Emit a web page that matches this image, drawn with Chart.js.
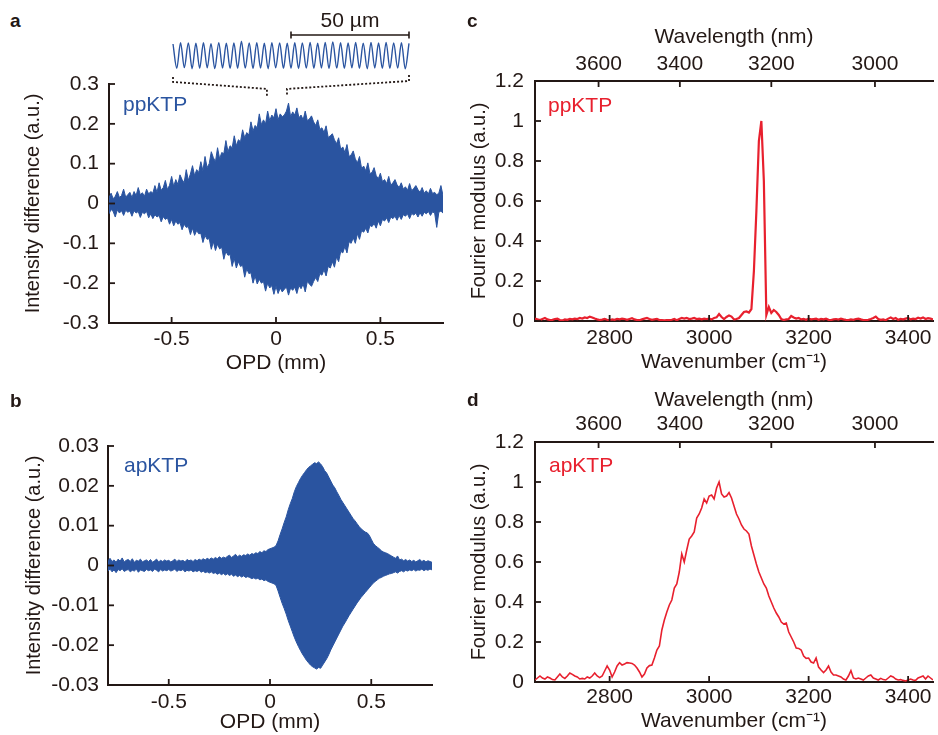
<!DOCTYPE html>
<html><head><meta charset="utf-8">
<script src="https://cdn.jsdelivr.net/npm/chart.js@4.4.1/dist/chart.umd.min.js"></script>
<style>
html,body{margin:0;padding:0;background:#fff;}
#wrap{position:relative;width:938px;height:735px;overflow:hidden;font-family:"Liberation Sans",Arial,sans-serif;color:#231815;}
canvas{position:absolute;}
.lbl{position:absolute;font-weight:bold;font-size:19px;line-height:1;}
</style></head><body>
<div id="wrap">
<canvas id="cInset" width="280" height="100" style="left:150px;top:0px"></canvas>
<canvas id="cA" width="469" height="320" style="left:0px;top:60px"></canvas>
<canvas id="cB" width="469" height="335" style="left:0px;top:400px"></canvas>
<canvas id="cC" width="478" height="380" style="left:460px;top:0px"></canvas>
<canvas id="cD" width="478" height="350" style="left:460px;top:385px"></canvas>
<div class="lbl" style="left:10px;top:11px">a</div>
<div class="lbl" style="left:10px;top:391px">b</div>
<div class="lbl" style="left:467px;top:11px">c</div>
<div class="lbl" style="left:467px;top:390px">d</div>
</div>
<script>
// ---------- data ----------
const opd = [-0.8,-0.79,-0.78,-0.77,-0.76,-0.75,-0.74,-0.73,-0.72,-0.71,
-0.7,-0.69,-0.68,-0.67,-0.66,-0.65,-0.64,-0.63,-0.62,-0.61,
-0.6,-0.59,-0.58,-0.57,-0.56,-0.55,-0.54,-0.53,-0.52,-0.51,
-0.5,-0.49,-0.48,-0.47,-0.46,-0.45,-0.44,-0.43,-0.42,-0.41,
-0.4,-0.39,-0.38,-0.37,-0.36,-0.35,-0.34,-0.33,-0.32,-0.31,
-0.3,-0.29,-0.28,-0.27,-0.26,-0.25,-0.24,-0.23,-0.22,-0.21,
-0.2,-0.19,-0.18,-0.17,-0.16,-0.15,-0.14,-0.13,-0.12,-0.11,
-0.1,-0.09,-0.08,-0.07,-0.06,-0.05,-0.04,-0.03,-0.02,-0.01,
0,0.01,0.02,0.03,0.04,0.05,0.06,0.07,0.08,0.09,
0.1,0.11,0.12,0.13,0.14,0.15,0.16,0.17,0.18,0.19,
0.2,0.21,0.22,0.23,0.24,0.25,0.26,0.27,0.28,0.29,
0.3,0.31,0.32,0.33,0.34,0.35,0.36,0.37,0.38,0.39,
0.4,0.41,0.42,0.43,0.44,0.45,0.46,0.47,0.48,0.49,
0.5,0.51,0.52,0.53,0.54,0.55,0.56,0.57,0.58,0.59,
0.6,0.61,0.62,0.63,0.64,0.65,0.66,0.67,0.68,0.69,
0.7,0.71,0.72,0.73,0.74,0.75,0.76,0.77,0.78,0.79,0.8];

const ppUpper = [0.014,0.026,0.012,0.018,0.03,0.015,0.02,0.036,0.016,0.022,
0.028,0.015,0.03,0.02,0.04,0.022,0.027,0.018,0.036,0.024,
0.03,0.026,0.045,0.028,0.052,0.033,0.04,0.058,0.035,0.046,
0.068,0.043,0.06,0.048,0.072,0.06,0.052,0.085,0.058,0.074,
0.095,0.07,0.085,0.078,0.105,0.082,0.118,0.09,0.1,0.13,
0.115,0.105,0.14,0.112,0.128,0.125,0.158,0.13,0.145,0.14,
0.17,0.145,0.16,0.155,0.185,0.165,0.178,0.172,0.205,0.182,
0.196,0.19,0.225,0.198,0.21,0.2,0.232,0.208,0.222,0.215,
0.238,0.21,0.225,0.218,0.222,0.232,0.252,0.218,0.23,0.222,
0.24,0.215,0.222,0.21,0.232,0.208,0.212,0.22,0.205,0.196,
0.21,0.186,0.19,0.178,0.195,0.166,0.17,0.175,0.16,0.15,
0.165,0.136,0.142,0.128,0.148,0.118,0.122,0.132,0.112,0.102,
0.118,0.088,0.094,0.082,0.102,0.075,0.078,0.09,0.07,0.062,
0.076,0.055,0.06,0.05,0.068,0.046,0.052,0.06,0.047,0.04,
0.052,0.036,0.042,0.033,0.05,0.032,0.038,0.045,0.035,0.028,
0.04,0.026,0.032,0.024,0.038,0.025,0.028,0.022,0.026,0.045,0.02];

const ppLower = [-0.026,-0.015,-0.02,-0.034,-0.016,-0.024,-0.018,-0.03,-0.017,-0.022,
-0.019,-0.032,-0.018,-0.024,-0.02,-0.035,-0.022,-0.026,-0.02,-0.036,
-0.026,-0.038,-0.028,-0.034,-0.03,-0.046,-0.033,-0.04,-0.036,-0.052,
-0.04,-0.056,-0.044,-0.052,-0.048,-0.066,-0.052,-0.06,-0.058,-0.078,
-0.062,-0.08,-0.068,-0.076,-0.075,-0.098,-0.08,-0.09,-0.088,-0.115,
-0.096,-0.118,-0.102,-0.114,-0.11,-0.14,-0.12,-0.13,-0.128,-0.158,
-0.138,-0.162,-0.146,-0.158,-0.155,-0.185,-0.164,-0.176,-0.174,-0.2,
-0.182,-0.202,-0.19,-0.2,-0.196,-0.22,-0.2,-0.212,-0.206,-0.228,
-0.208,-0.226,-0.212,-0.222,-0.215,-0.21,-0.23,-0.212,-0.218,-0.21,
-0.226,-0.206,-0.214,-0.202,-0.222,-0.196,-0.202,-0.208,-0.196,-0.186,
-0.196,-0.176,-0.18,-0.166,-0.182,-0.158,-0.162,-0.146,-0.16,-0.134,
-0.146,-0.12,-0.124,-0.108,-0.124,-0.096,-0.1,-0.086,-0.1,-0.076,
-0.09,-0.068,-0.072,-0.062,-0.074,-0.055,-0.058,-0.05,-0.062,-0.044,
-0.056,-0.04,-0.044,-0.036,-0.048,-0.034,-0.038,-0.032,-0.042,-0.03,
-0.04,-0.028,-0.032,-0.026,-0.038,-0.025,-0.029,-0.024,-0.034,-0.023,
-0.032,-0.022,-0.026,-0.02,-0.03,-0.021,-0.024,-0.06,-0.022,-0.019,-0.024];

const apUpper = [0.0012,0.0018,0.001,0.0014,0.0008,0.0016,0.0011,0.0019,0.0009,0.0013,
0.0015,0.001,0.0017,0.0008,0.0013,0.0011,0.0016,0.0009,0.0012,0.0014,
0.001,0.0015,0.0008,0.0012,0.0016,0.0009,0.0013,0.001,0.0014,0.0011,
0.0013,0.0009,0.0012,0.0016,0.001,0.0014,0.0011,0.0013,0.0009,0.0015,
0.0012,0.0014,0.001,0.0015,0.0012,0.0016,0.0013,0.0017,0.0014,0.0018,
0.0015,0.0019,0.0016,0.002,0.0017,0.0022,0.0018,0.0021,0.0019,0.0023,
0.0026,0.002,0.0024,0.0028,0.0022,0.0026,0.0023,0.0027,0.0025,0.0029,
0.0026,0.003,0.0028,0.0032,0.003,0.0035,0.0032,0.0037,0.0035,0.004,
0.0042,0.0044,0.0046,0.005,0.0062,0.0078,0.0092,0.0108,0.0122,0.014,
0.0155,0.0168,0.0185,0.0198,0.0208,0.0218,0.0226,0.0233,0.024,0.0246,
0.025,0.0254,0.0258,0.0256,0.026,0.0255,0.0248,0.0238,0.0232,0.0222,
0.0212,0.0202,0.0195,0.0185,0.0176,0.0166,0.0158,0.015,0.0142,0.0134,
0.0126,0.0118,0.0112,0.0105,0.0098,0.0092,0.0088,0.0084,0.0082,0.0076,
0.0066,0.0056,0.005,0.0046,0.0042,0.0037,0.0034,0.0032,0.003,0.0027,
0.0024,0.0021,0.0018,0.0024,0.0014,0.0016,0.0012,0.0015,0.0011,0.0014,
0.001,0.0013,0.0009,0.0012,0.0015,0.001,0.0013,0.0009,0.0012,0.001,0.0008];

const apLower = [-0.0014,-0.0009,-0.0016,-0.0011,-0.0018,-0.001,-0.0013,-0.0008,-0.0015,-0.0012,
-0.001,-0.0016,-0.0012,-0.0014,-0.0009,-0.0017,-0.0011,-0.0013,-0.0015,-0.001,
-0.0013,-0.0011,-0.0015,-0.0009,-0.0012,-0.0016,-0.001,-0.0014,-0.0011,-0.0013,
-0.001,-0.0014,-0.0012,-0.0009,-0.0015,-0.0011,-0.0013,-0.001,-0.0016,-0.0012,
-0.0014,-0.0011,-0.0016,-0.0013,-0.0015,-0.0012,-0.0017,-0.0014,-0.0018,-0.0016,
-0.0019,-0.0016,-0.002,-0.0018,-0.0022,-0.0019,-0.0023,-0.002,-0.0024,-0.0021,
-0.0025,-0.0022,-0.0027,-0.0024,-0.0028,-0.0025,-0.0029,-0.0026,-0.003,-0.0028,
-0.003,-0.0033,-0.0031,-0.0034,-0.0032,-0.0036,-0.0034,-0.0038,-0.0036,-0.004,
-0.0042,-0.0044,-0.0046,-0.005,-0.0064,-0.008,-0.0095,-0.0108,-0.0122,-0.0138,
-0.0152,-0.0166,-0.018,-0.0192,-0.0203,-0.0213,-0.0222,-0.023,-0.0238,-0.0244,
-0.025,-0.0254,-0.0257,-0.026,-0.0256,-0.0258,-0.025,-0.0242,-0.0234,-0.0224,
-0.0212,-0.0202,-0.0192,-0.0182,-0.0172,-0.0162,-0.0152,-0.0144,-0.0135,-0.0126,
-0.0118,-0.011,-0.0102,-0.0094,-0.0087,-0.008,-0.0074,-0.0068,-0.0062,-0.0056,
-0.005,-0.0044,-0.004,-0.0036,-0.0032,-0.003,-0.0027,-0.0025,-0.0023,-0.0021,
-0.002,-0.0018,-0.0016,-0.0019,-0.0015,-0.0013,-0.0016,-0.0012,-0.0014,-0.0011,
-0.0013,-0.001,-0.0014,-0.0011,-0.0012,-0.0009,-0.0013,-0.001,-0.0012,-0.0009,-0.0011];

const wavenumber = [2650,2655,2660,2665,2670,2675,2680,2685,2690,2695,
2700,2705,2710,2715,2720,2725,2730,2735,2740,2745,
2750,2755,2760,2765,2770,2775,2780,2785,2790,2795,
2800,2805,2810,2815,2820,2825,2830,2835,2840,2845,
2850,2855,2860,2865,2870,2875,2880,2885,2890,2895,
2900,2905,2910,2915,2920,2925,2930,2935,2940,2945,
2950,2955,2960,2965,2970,2975,2980,2985,2990,2995,
3000,3005,3010,3015,3020,3025,3030,3035,3040,3045,
3050,3055,3060,3065,3070,3075,3080,3085,3090,3095,
3100,3105,3110,3115,3120,3125,3130,3135,3140,3145,
3150,3155,3160,3165,3170,3175,3180,3185,3190,3195,
3200,3205,3210,3215,3220,3225,3230,3235,3240,3245,
3250,3255,3260,3265,3270,3275,3280,3285,3290,3295,
3300,3305,3310,3315,3320,3325,3330,3335,3340,3345,
3350,3355,3360,3365,3370,3375,3380,3385,3390,3395,
3400,3405,3410,3415,3420,3425,3430,3435,3440,3445,3450];

const ppSpectrum = [0.012,0.008,0.005,0.01,0.015,0.008,0.005,0.006,0.01,0.012,
0.005,0.003,0.008,0.006,0.01,0.008,0.012,0.01,0.015,0.012,
0.018,0.015,0.022,0.018,0.012,0.008,0.005,0.007,0.01,0.006,
0.004,0.008,0.006,0.01,0.008,0.012,0.01,0.006,0.01,0.014,
0.008,0.005,0.004,0.008,0.012,0.015,0.01,0.006,0.008,0.01,
0.005,0.004,0.003,0.005,0.004,0.006,0.01,0.004,0.01,0.015,
0.012,0.015,0.01,0.012,0.015,0.01,0.012,0.008,0.012,0.01,
0.012,0.008,0.015,0.018,0.035,0.02,0.01,0.02,0.028,0.022,
0.008,0.01,0.015,0.03,0.045,0.048,0.042,0.06,0.25,0.55,
0.9,1.0,0.7,0.03,0.07,0.04,0.055,0.045,0.03,0.01,
0.005,0.008,0.01,0.025,0.018,0.012,0.015,0.008,0.01,0.006,
0.012,0.008,0.01,0.012,0.006,0.01,0.008,0.012,0.006,0.005,
0.008,0.01,0.007,0.012,0.008,0.006,0.005,0.008,0.006,0.01,
0.012,0.008,0.005,0.004,0.006,0.01,0.015,0.022,0.01,0.006,
0.008,0.004,0.012,0.018,0.01,0.015,0.006,0.01,0.008,0.012,
0.015,0.008,0.012,0.01,0.016,0.012,0.018,0.01,0.014,0.012,0.008];

const apSpectrum = [0.01,0.02,0.03,0.02,0.015,0.025,0.02,0.012,0.01,0.025,
0.04,0.025,0.018,0.03,0.045,0.038,0.03,0.025,0.015,0.018,
0.015,0.025,0.02,0.03,0.045,0.03,0.022,0.03,0.055,0.08,
0.06,0.025,0.05,0.08,0.097,0.085,0.09,0.097,0.095,0.093,
0.085,0.07,0.05,0.025,0.04,0.07,0.082,0.085,0.12,0.16,
0.18,0.26,0.31,0.35,0.385,0.41,0.47,0.49,0.55,0.64,
0.6,0.66,0.715,0.73,0.75,0.82,0.84,0.87,0.915,0.895,
0.93,0.935,0.915,0.97,1.0,0.94,0.925,0.93,0.947,0.92,
0.88,0.84,0.815,0.785,0.765,0.755,0.74,0.68,0.635,0.59,
0.55,0.52,0.49,0.47,0.43,0.4,0.37,0.345,0.325,0.3,
0.29,0.295,0.25,0.225,0.2,0.17,0.168,0.16,0.13,0.118,
0.12,0.1,0.095,0.12,0.075,0.06,0.047,0.06,0.08,0.05,
0.035,0.035,0.03,0.025,0.015,0.01,0.03,0.057,0.02,0.015,
0.02,0.015,0.01,0.02,0.03,0.035,0.02,0.015,0.01,0.018,
0.012,0.01,0.02,0.03,0.025,0.015,0.01,0.012,0.008,0.005,
0.01,0.015,0.01,0.008,0.02,0.025,0.03,0.015,0.03,0.02,0.01];

// inset: zoomed interferogram (100 um window), extrema of the fringes
const insetUm = [0,1.6,3.2,4.8,6.5,8.1,9.7,11.3,12.9,14.5,16.1,17.7,19.4,21.0,22.6,24.2,25.8,27.4,29.0,30.6,
32.3,33.9,35.5,37.1,38.7,40.3,41.9,43.5,45.2,46.8,48.4,50.0,51.6,53.2,54.8,56.5,58.1,59.7,61.3,62.9,
64.5,66.1,67.7,69.4,71.0,72.6,74.2,75.8,77.4,79.0,80.6,82.3,83.9,85.5,87.1,88.7,90.3,91.9,93.5,95.2,
96.8,98.4,100];
const insetAmp = [0.85,-0.95,0.95,-0.9,0.92,-0.98,0.9,-0.95,0.95,-0.92,
0.88,-0.97,0.95,-0.93,0.9,-0.96,0.93,-0.95,1.05,-0.94,
0.92,-0.97,0.95,-0.93,0.9,-0.98,0.95,-0.92,0.93,-0.96,
0.9,-0.95,0.94,-0.97,0.92,-0.94,0.97,-0.95,0.9,-0.93,
0.96,-0.97,1.0,-0.94,0.95,-0.96,0.93,-0.92,0.97,-0.95,
0.9,-0.98,0.96,-0.93,0.92,-0.95,0.97,-0.96,0.93,-0.94,
0.95,-0.98,0.9];
const scaleBarUm = [50, 100];
const scaleBarLabel = '50 µm';

const opdTicks = [-0.5, 0, 0.5];
const ppYTicks = [-0.3,-0.2,-0.1,0,0.1,0.2,0.3];
const apYTicks = [-0.03,-0.02,-0.01,0,0.01,0.02,0.03];
const wnTicks = [2800, 3000, 3200, 3400];
const wlTicks = [3600, 3400, 3200, 3000];
const specYTicks = [0,0.2,0.4,0.6,0.8,1,1.2];

// ---------- style ----------
const TEXT = '#231815', BLUE = '#2a54a0', RED = '#e8202e';
const FONT = '"Liberation Sans", Arial, sans-serif';
Chart.defaults.font.family = FONT;
Chart.defaults.color = TEXT;
Chart.defaults.animation = false;

const inTicks = {
  id: 'inTicks',
  afterDatasetsDraw(chart, args, o) {
    if (!o || !o.on) return;
    const ctx = chart.ctx, a = chart.chartArea;
    ctx.save(); ctx.strokeStyle = TEXT; ctx.lineWidth = 1.8;
    for (const id in chart.scales) {
      const s = chart.scales[id];
      if (s.options.display === false) continue;
      for (const t of s.ticks) {
        const p = s.getPixelForValue(t.value);
        ctx.beginPath();
        if (s.position === 'left') { ctx.moveTo(a.left, p); ctx.lineTo(a.left + 6, p); }
        else if (s.position === 'bottom') { ctx.moveTo(p, a.bottom); ctx.lineTo(p, a.bottom - 6); }
        else if (s.position === 'top') { ctx.moveTo(p, a.top); ctx.lineTo(p, a.top + 6); }
        ctx.stroke();
      }
    }
    ctx.restore();
  }
};
const tag = {
  id: 'tag',
  afterDraw(chart, args, o) {
    if (!o || !o.text) return;
    const ctx = chart.ctx, a = chart.chartArea;
    ctx.save();
    ctx.font = '21px ' + FONT; ctx.fillStyle = o.color;
    ctx.textBaseline = 'middle'; ctx.textAlign = 'left';
    ctx.fillText(o.text, a.left + o.dx, a.top + o.dy);
    ctx.restore();
  }
};
Chart.register(inTicks, tag);

function axisBase() {
  return { grid: { display: false, drawTicks: false }, border: { display: true, color: TEXT, width: 2 } };
}
function fixedTicks(vals) { return s => { s.ticks = vals.map(v => ({ value: v })); }; }

function interferogram(id, up, lo, yTicks, L) {
  return new Chart(document.getElementById(id), {
    type: 'line',
    data: { datasets: [
      { data: opd.map((x, i) => ({ x, y: up[i] })), borderColor: BLUE, backgroundColor: BLUE, borderWidth: 1, pointRadius: 0, tension: 0, fill: '+1' },
      { data: opd.map((x, i) => ({ x, y: lo[i] })), borderColor: BLUE, backgroundColor: BLUE, borderWidth: 1, pointRadius: 0, tension: 0, fill: false }
    ]},
    options: {
      responsive: false, animation: false, events: [],
      layout: { padding: L.pad },
      plugins: { legend: { display: false }, tooltip: { enabled: false },
        inTicks: { on: true }, tag: { text: L.tag, color: BLUE, dx: L.tdx, dy: L.tdy } },
      scales: {
        x: Object.assign(axisBase(), {
          type: 'linear', position: 'bottom', min: -0.8, max: 0.8,
          afterBuildTicks: fixedTicks(opdTicks), afterFit: s => { s.height = L.xh; },
          ticks: { font: { size: 21, lineHeight: 1.2 }, color: TEXT, padding: L.xtp, maxRotation: 0, autoSkip: false, callback: v => String(v) },
          title: { display: true, text: 'OPD (mm)', color: TEXT, font: { size: 21, lineHeight: 1.2 }, padding: { top: 0, bottom: L.xtb } }
        }),
        y: Object.assign(axisBase(), {
          type: 'linear', position: 'left', min: yTicks[0], max: yTicks[yTicks.length - 1],
          afterBuildTicks: fixedTicks(yTicks), afterFit: s => { s.width = L.yw; },
          ticks: { font: { size: 21, lineHeight: 1.2 }, color: TEXT, padding: L.ytp, autoSkip: false, callback: v => String(v) },
          title: { display: true, text: 'Intensity difference (a.u.)', color: TEXT, font: { size: 20, lineHeight: 1.2 }, padding: { top: L.ytt, bottom: 0 } }
        })
      }
    }
  });
}

function spectrum(id, vals, L) {
  return new Chart(document.getElementById(id), {
    type: 'line',
    data: { datasets: [
      { data: wavenumber.map((x, i) => ({ x, y: vals[i] })), borderColor: RED, borderWidth: L.lw, pointRadius: 0, tension: 0, fill: false, xAxisID: 'x', yAxisID: 'y' }
    ]},
    options: {
      responsive: false, animation: false, events: [],
      layout: { padding: L.pad },
      plugins: { legend: { display: false }, tooltip: { enabled: false },
        inTicks: { on: true }, tag: { text: L.tag, color: RED, dx: L.tdx, dy: L.tdy } },
      scales: {
        x: Object.assign(axisBase(), {
          type: 'linear', position: 'bottom', min: 2650, max: 3450,
          afterBuildTicks: fixedTicks(wnTicks), afterFit: s => { s.height = L.xh; },
          ticks: { font: { size: 21, lineHeight: 1.2 }, color: TEXT, padding: L.xtp, maxRotation: 0, autoSkip: false, callback: v => String(v) },
          title: { display: true, text: 'Wavenumber (cm⁻¹)', color: TEXT, font: { size: 21, lineHeight: 1.2 }, padding: { top: 0, bottom: L.xtb } }
        }),
        x2: Object.assign(axisBase(), {
          type: 'linear', position: 'top', min: 2650, max: 3450,
          afterBuildTicks: s => { s.ticks = wlTicks.map(w => ({ value: 1e7 / w })); },
          afterFit: s => { s.height = L.th; },
          ticks: { font: { size: 21, lineHeight: 1.2 }, color: TEXT, padding: L.ttp, maxRotation: 0, autoSkip: false, callback: (v, i) => String(wlTicks[i]) },
          title: { display: true, text: 'Wavelength (nm)', color: TEXT, font: { size: 21, lineHeight: 1.2 }, padding: { top: L.ttt, bottom: 0 } }
        }),
        y: Object.assign(axisBase(), {
          type: 'linear', position: 'left', min: 0, max: 1.2,
          afterBuildTicks: fixedTicks(specYTicks), afterFit: s => { s.width = L.yw; },
          ticks: { font: { size: 21, lineHeight: 1.2 }, color: TEXT, padding: L.ytp, autoSkip: false, callback: v => String(v) },
          title: { display: true, text: 'Fourier modulus (a.u.)', color: TEXT, font: { size: 20, lineHeight: 1.2 }, padding: { top: L.ytt, bottom: 0 } }
        })
      }
    }
  });
}

interferogram('cA', ppUpper, ppLower, ppYTicks,
  { pad: { top: 24, right: 26, left: 0, bottom: 0 }, xh: 57, yw: 109, xtp: 3.4, xtb: 4.4, ytp: 10, ytt: 21, tag: 'ppKTP', tdx: 14, tdy: 21 });
interferogram('cB', apUpper, apLower, apYTicks,
  { pad: { top: 46, right: 37, left: 0, bottom: 0 }, xh: 50, yw: 108, xtp: 4.4, xtb: 0, ytp: 9, ytt: 22, tag: 'apKTP', tdx: 16, tdy: 20 });
spectrum('cC', ppSpectrum,
  { pad: { top: 0, right: 5, left: 0, bottom: 0 }, xh: 59, th: 81, yw: 75, xtp: 4.4, xtb: 5.4, ttp: 4.4, ttt: 24.4, ytp: 11, ytt: 7, lw: 2.2, tag: 'ppKTP', tdx: 13, tdy: 25 });
spectrum('cD', apSpectrum,
  { pad: { top: 0, right: 5, left: 0, bottom: 0 }, xh: 53, th: 57, yw: 75, xtp: 2.4, xtb: 1.4, ttp: 5.4, ttt: 2.4, ytp: 11, ytt: 7, lw: 1.6, tag: 'apKTP', tdx: 14, tdy: 24 });

// ---------- inset ----------
const insetLabel = {
  id: 'insetLabel',
  afterDraw(chart) {
    if (chart.canvas.id !== 'cInset') return;
    const ctx = chart.ctx, xs = chart.scales.x, ys = chart.scales.y;
    ctx.save(); ctx.font = '21px ' + FONT; ctx.fillStyle = TEXT;
    ctx.textAlign = 'center'; ctx.textBaseline = 'middle';
    ctx.fillText(scaleBarLabel, xs.getPixelForValue((scaleBarUm[0] + scaleBarUm[1]) / 2), ys.getPixelForValue(2.56));
    ctx.restore();
  }
};
const dark = { borderColor: TEXT, pointRadius: 0, fill: false, tension: 0, clip: false };
new Chart(document.getElementById('cInset'), {
  type: 'line',
  data: { datasets: [
    { data: insetUm.map((x, i) => ({ x, y: insetAmp[i] })), borderColor: BLUE, borderWidth: 1.4, pointRadius: 0, fill: false, tension: 0.4, cubicInterpolationMode: 'monotone', clip: false },
    Object.assign({ data: [{ x: scaleBarUm[0], y: 1.52 }, { x: scaleBarUm[1], y: 1.52 }], borderWidth: 1.6 }, dark),
    Object.assign({ data: [{ x: scaleBarUm[0], y: 1.78 }, { x: scaleBarUm[0], y: 1.26 }], borderWidth: 1.6 }, dark),
    Object.assign({ data: [{ x: scaleBarUm[1], y: 1.78 }, { x: scaleBarUm[1], y: 1.26 }], borderWidth: 1.6 }, dark),
    Object.assign({ data: [{ x: 0, y: -1.59 }, { x: 0, y: -1.96 }, { x: 39.8, y: -2.48 }, { x: 39.8, y: -3.0 }], borderWidth: 1.8, borderDash: [2, 2] }, dark),
    Object.assign({ data: [{ x: 100, y: -1.44 }, { x: 100, y: -1.89 }, { x: 48.3, y: -2.48 }, { x: 48.3, y: -2.93 }], borderWidth: 1.8, borderDash: [2, 2] }, dark)
  ]},
  options: {
    responsive: false, animation: false, events: [],
    layout: { padding: { left: 23, right: 21, top: 0, bottom: 0 } },
    plugins: { legend: { display: false }, tooltip: { enabled: false } },
    scales: {
      x: { type: 'linear', min: 0, max: 100, display: false },
      y: { type: 'linear', min: -3.3, max: 4.11, display: false }
    }
  },
  plugins: [insetLabel]
});
</script>
</body></html>
